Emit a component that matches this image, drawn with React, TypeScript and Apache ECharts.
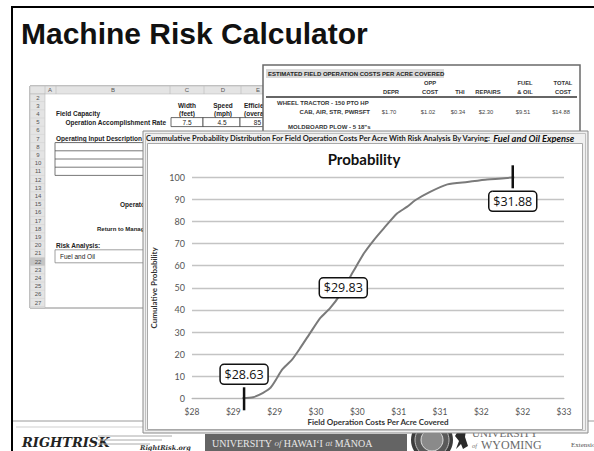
import React, { useEffect, useRef } from 'react';
import * as echarts from 'echarts';

// ---------- chart data ----------
const xMin = 28;
const xMax = 32.5;
const xStep = 0.5;
const yMin = 0;
const yMax = 100;
const yStep = 10;

const curveCost = [28.61, 28.74, 28.86, 28.95, 29.03, 29.09, 29.21, 29.31, 29.43, 29.55, 29.67, 29.79, 29.96, 30.08, 30.2, 30.32, 30.48, 30.6, 30.7, 30.88, 31.09, 31.33, 31.57, 31.9];
const curveProb = [0, 0.5, 2.5, 4.8, 9.3, 13, 17.5, 22.8, 29.6, 36.3, 40.8, 46.8, 58, 65.6, 71.6, 76.9, 83.6, 86.6, 89.6, 93.4, 96.8, 97.9, 99, 100];

const markerCost = [28.63, 29.83, 31.88];
const markerProb = [0, 50, 100];
const markerLabels = ['$28.63', '$29.83', '$31.88'];
const markerKinds = ['low', 'mid', 'high'];

// ---------- decoration texts ----------
const costHeadTop = ['', 'OPP', '', '', 'FUEL', 'TOTAL'];
const costHeadBottom = ['DEPR', 'COST', 'THI', 'REPAIRS', '& OIL', 'COST'];
const costValues = ['$1.70', '$1.02', '$0.34', '$2.30', '$9.51', '$14.88'];
const sheetColumns = ['A', 'B', 'C', 'D', 'E'];
const sheetRows = [2, 3, 4, 5, 6, 7, 8, 9, 10, 11, 12, 13, 14, 15, 16, 17, 18, 19, 20, 21, 22, 23, 24, 25, 26, 27];

// layout helpers
const costColX = [391, 430, 460, 488, 525, 563];
const sheetColX = [50, 113, 187, 223, 258];
const rowY = (r: number) => 97.5 + (r - 2) * 8.2;

const SHEET_FONT = '"Liberation Sans", Arial, sans-serif';
const XL_FONT = 'Lato, "Noto Sans", sans-serif';

function txt(x: number, y: number, text: string, font: string, z: number, align = 'left', fill = '#222') {
  return { type: 'text', x, y, z, silent: true, style: { text, font, fill, align, verticalAlign: 'middle' } };
}
function ln(x1: number, y1: number, x2: number, y2: number, z: number, stroke = '#888', lineWidth = 1) {
  return { type: 'line', z, silent: true, shape: { x1, y1, x2, y2 }, style: { stroke, lineWidth } };
}
function rc(x: number, y: number, width: number, height: number, z: number, fill: string, stroke?: string, lineWidth = 1) {
  return { type: 'rect', z, silent: true, shape: { x, y, width, height }, style: { fill, stroke: stroke || null, lineWidth } };
}

function buildGraphic() {
  const g: any[] = [];
  // slide title
  g.push(txt(21, 33, 'Machine Risk Calculator', `bold 30px ${SHEET_FONT}`, 1, 'left', '#111'));

  // ---- spreadsheet (z 1)
  const zs = 1;
  g.push(rc(30, 86, 240, 222, zs, '#ffffff', '#8a8a8a', 1));
  g.push(rc(30, 86, 240, 8, zs, '#e4e4e4', '#b0b0b0', 0.5));
  g.push(rc(30, 94, 15, 214, zs, '#e4e4e4', '#b0b0b0', 0.5));
  g.push(rc(30, rowY(22) - 4.1, 15, 8.2, zs, '#c4c4c4'));
  [45, 56, 170, 204, 241].forEach((x) => g.push(ln(x, 86, x, 94, zs, '#b0b0b0', 0.5)));
  sheetColumns.forEach((c, i) => g.push(txt(sheetColX[i], 90, c, `6px ${SHEET_FONT}`, zs, 'center', '#555')));
  sheetRows.forEach((r) => {
    g.push(txt(38, rowY(r), String(r), `6px ${SHEET_FONT}`, zs, 'center', '#555'));
    g.push(ln(30, rowY(r) + 4.1, 45, rowY(r) + 4.1, zs, '#cfcfcf', 0.5));
  });
  const B = `bold 6.5px ${SHEET_FONT}`;
  g.push(txt(187, rowY(3), 'Width', B, zs, 'center'));
  g.push(txt(187, rowY(4), '(feet)', B, zs, 'center'));
  g.push(txt(223, rowY(3), 'Speed', B, zs, 'center'));
  g.push(txt(223, rowY(4), '(mph)', B, zs, 'center'));
  g.push(txt(244, rowY(3), 'Efficiency', B, zs, 'left'));
  g.push(txt(244, rowY(4), '(overall)', B, zs, 'left'));
  g.push(txt(56, rowY(4), 'Field Capacity', B, zs));
  g.push(txt(166, rowY(5), 'Operation Accomplishment Rate', B, zs, 'right'));
  g.push(rc(171, rowY(5) - 4.5, 32, 9, zs, '#fff', '#444', 0.8));
  g.push(rc(203, rowY(5) - 4.5, 37, 9, zs, '#fff', '#444', 0.8));
  g.push(rc(240, rowY(5) - 4.5, 30, 9, zs, '#fff', '#444', 0.8));
  g.push(txt(187, rowY(5), '7.5', `6.5px ${SHEET_FONT}`, zs, 'center'));
  g.push(txt(222, rowY(5), '4.5', `6.5px ${SHEET_FONT}`, zs, 'center'));
  g.push(txt(261, rowY(5), '85', `6.5px ${SHEET_FONT}`, zs, 'right'));
  g.push(txt(56, rowY(7), 'Operating Input Description', B, zs));
  g.push(ln(56, rowY(7) + 4, 140, rowY(7) + 4, zs, '#444', 0.6));
  g.push(rc(55, rowY(8) - 4.1, 100, 32.8, zs, '#fff', '#555', 0.8));
  [9, 10, 11].forEach((r) => g.push(ln(55, rowY(r) - 4.1, 155, rowY(r) - 4.1, zs, '#555', 0.8)));
  g.push(txt(120, rowY(15), 'Operator Labor', B, zs));
  g.push(txt(97, rowY(18), 'Return to Management', `bold 6px ${SHEET_FONT}`, zs));
  g.push(txt(56, rowY(20), 'Risk Analysis:', B, zs));
  g.push(rc(55, rowY(21) - 3.5, 100, 13, zs, '#fff', '#888', 0.8));
  g.push(txt(60, rowY(21) + 3, 'Fuel and Oil', `6.5px ${SHEET_FONT}`, zs));

  // ---- cost table (z 2)
  const zc = 2;
  g.push(rc(263, 65, 317, 67, zc, '#ffffff', '#6a6a6a', 1.5));
  g.push(rc(266, 69, 178, 9, zc, '#d9d9d9'));
  g.push(txt(268, 74, 'ESTIMATED FIELD OPERATION COSTS PER ACRE COVERED', `bold 6px ${SHEET_FONT}`, zc));
  costHeadTop.forEach((h, i) => { if (h) g.push(txt(costColX[i], 83, h, `bold 5.8px ${SHEET_FONT}`, zc, 'center', '#333')); });
  costHeadBottom.forEach((h, i) => {
    g.push(txt(costColX[i], 92, h, `bold 5.8px ${SHEET_FONT}`, zc, 'center', '#333'));
  });
  g.push(ln(266, 97, 577, 97, zc, '#333', 1.5));
  g.push(txt(277, 102.5, 'WHEEL TRACTOR - 150 PTO HP', `bold 6px ${SHEET_FONT}`, zc, 'left', '#333'));
  g.push(txt(370, 111.5, 'CAB, AIR, STR, PWRSFT', `bold 6px ${SHEET_FONT}`, zc, 'right', '#333'));
  costValues.forEach((v, i) => g.push(txt(costColX[i] - 2, 111.5, v, `5.8px ${SHEET_FONT}`, zc, 'center', '#444')));
  g.push(txt(288, 127, 'MOLDBOARD PLOW - 5 18"s', `bold 6px ${SHEET_FONT}`, zc, 'left', '#333'));

  // ---- footer (z 3)
  const zf = 3;
  g.push(ln(12, 421, 594, 421, zf, '#9a9a9a', 1));
  g.push(ln(16, 427, 176, 427, zf, '#cfcfcf', 1));
  g.push(txt(22, 442, 'RIGHTRISK', `italic bold 13px "DejaVu Serif", serif`, zf, 'left', '#222'));
  g.push(ln(98, 436, 172, 436, zf, '#aaa', 1));
  g.push(ln(98, 440, 162, 440, zf, '#aaa', 1));
  g.push(ln(98, 444, 150, 444, zf, '#aaa', 1));
  g.push(txt(140, 447.5, 'RightRisk.org', `italic bold 6.5px "DejaVu Serif", serif`, zf, 'left', '#333'));
  g.push(rc(205, 434, 202, 17, zf, '#646464'));
  g.push({
    type: 'text', x: 212, y: 443, z: zf, silent: true,
    style: {
      text: '{a|UNIVERSITY }{b|of }{a|HAWAI\u02BBI }{b|at }{a|M\u0100NOA}',
      verticalAlign: 'middle',
      rich: {
        a: { fontFamily: '"Liberation Serif", serif', fontSize: 10, fill: '#e8e8e8' },
        b: { fontFamily: '"Liberation Serif", serif', fontSize: 9, fontStyle: 'italic', fill: '#d8d8d8' }
      }
    }
  });
  g.push({ type: 'circle', z: zf, silent: true, shape: { cx: 432, cy: 440, r: 21 }, style: { fill: '#3c3c3c' } });
  g.push({ type: 'circle', z: zf, silent: true, shape: { cx: 432, cy: 440, r: 17 }, style: { fill: '#5a5a5a', stroke: '#bdbdbd', lineWidth: 1 } });
  g.push({ type: 'circle', z: zf, silent: true, shape: { cx: 432, cy: 440, r: 11 }, style: { fill: '#8a8a8a', stroke: '#dddddd', lineWidth: 1 } });
  g.push({ type: 'polygon', z: zf, silent: true, shape: { points: [[456, 449], [459, 441], [455, 436], [458, 431], [463, 433], [466, 430], [465, 437], [468, 446], [463, 449], [461, 444]] }, style: { fill: '#2a2a2a' } });
  g.push(txt(472, 432.5, 'UNIVERSITY', `11px "Liberation Serif", serif`, zf, 'left', '#6a6a6a'));
  g.push(txt(472, 445, 'of', `italic 6.5px "Liberation Serif", serif`, zf, 'left', '#777'));
  g.push(txt(481, 444.5, 'WYOMING', `12px "Liberation Serif", serif`, zf, 'left', '#6a6a6a'));
  g.push(txt(571, 445, 'Extensio', `7px "Liberation Serif", serif`, zf, 'left', '#555'));

  // ---- chart window (z 4)
  const zw = 4;
  g.push(rc(143, 131, 445, 302, zw, '#f0f0f0', '#8a8a8a', 1));
  g.push(rc(145.5, 133.5, 440, 297, zw, 'transparent', '#c0c0c0', 1));
  g.push({
    type: 'text', x: 146, y: 138, z: zw, silent: true,
    style: {
      text: '{a|Cummulative Probability Distribution For Field Operation Costs Per Acre With Risk Analysis By Varying: }{b|Fuel and Oil Expense}',
      verticalAlign: 'middle',
      rich: {
        a: { fontFamily: XL_FONT, fontSize: 7.5, fontWeight: 'bold', fill: '#222' },
        b: { fontFamily: XL_FONT, fontSize: 9.3, fontWeight: 'bold', fontStyle: 'italic', fill: '#111' }
      }
    }
  });
  g.push(rc(147.5, 143.5, 435, 286, zw, '#ffffff', '#a8a8a8', 1));
  g.push(txt(364, 159, 'Probability', `bold 15px ${XL_FONT}`, zw, 'center', '#111'));

  // slide border
  g.push({ type: 'rect', z: 30, silent: true, shape: { x: 12, y: 7, width: 620, height: 470 }, style: { fill: 'transparent', stroke: '#000', lineWidth: 2 } });
  return g;
}

export default function App() {
  const ref = useRef<HTMLDivElement>(null);
  useEffect(() => {
    if (!ref.current) return;
    const chart = echarts.init(ref.current, null, { renderer: 'svg' });
    const curve = curveCost.map((c, i) => [c, curveProb[i]]);
    const markers = markerCost.map((c, i) => [c, markerProb[i], i]);
    chart.setOption({
      animation: false,
      backgroundColor: '#ffffff',
      graphic: { elements: buildGraphic() },
      grid: { left: 192, right: 30, top: 177.3, bottom: 52.7, containLabel: false },
      xAxis: {
        type: 'value', min: xMin, max: xMax, interval: xStep, z: 10,
        name: 'Field Operation Costs Per Acre Covered', nameLocation: 'middle', nameGap: 20,
        nameTextStyle: { fontFamily: XL_FONT, fontWeight: 'bold', fontSize: 8, color: '#333' },
        axisLine: { show: true, lineStyle: { color: '#b8b8b8', width: 1 } },
        axisTick: { show: false },
        splitLine: { show: false },
        axisLabel: {
          fontFamily: XL_FONT, fontSize: 8.5, color: '#555', margin: 9,
          formatter: (v: number) => '$' + Math.round(v)
        }
      },
      yAxis: {
        type: 'value', min: yMin, max: yMax, interval: yStep, z: 10,
        name: 'Cumulative Probability', nameLocation: 'middle', nameGap: 14, nameRotate: 90,
        nameTextStyle: { fontFamily: XL_FONT, fontWeight: 'bold', fontSize: 8, color: '#333' },
        axisLine: { show: false },
        axisTick: { show: false },
        splitLine: { show: true, lineStyle: { color: '#c4c4c4', width: 1.3 } },
        axisLabel: { fontFamily: XL_FONT, fontSize: 9, color: '#555', margin: 7 }
      },
      series: [
        {
          type: 'line', z: 11, data: curve, showSymbol: false, symbol: 'none',
          lineStyle: { color: '#7a7a7a', width: 2 }, smooth: 0.2
        },
        {
          type: 'custom', z: 12, data: markers,
          renderItem: (params: any, api: any) => {
            const i = api.value(2);
            const p = api.coord([api.value(0), api.value(1)]);
            const kind = markerKinds[i];
            const children: any[] = [];
            let cy = p[1];
            if (kind === 'low') {
              children.push({ type: 'line', shape: { x1: p[0], y1: p[1] - 11, x2: p[0], y2: p[1] + 12 }, style: { stroke: '#111', lineWidth: 2.5 } });
              cy = p[1] - 24;
            } else if (kind === 'high') {
              children.push({ type: 'line', shape: { x1: p[0], y1: p[1] - 12, x2: p[0], y2: p[1] + 11 }, style: { stroke: '#111', lineWidth: 2.5 } });
              cy = p[1] + 24;
            }
            children.push({ type: 'rect', shape: { x: p[0] - 24, y: cy - 10, width: 48, height: 20, r: 4 }, style: { fill: '#fff', stroke: '#111', lineWidth: 1.5 } });
            children.push({ type: 'text', x: p[0], y: cy, style: { text: markerLabels[i], align: 'center', verticalAlign: 'middle', fontFamily: '"Open Sans", "Noto Sans", sans-serif', fontSize: 12.5, fill: '#111' } });
            return { type: 'group', children };
          }
        }
      ]
    });
    return () => chart.dispose();
  }, []);
  return <div ref={ref} style={{ position: 'fixed', left: 0, top: 0, width: 594, height: 451 }} />;
}
